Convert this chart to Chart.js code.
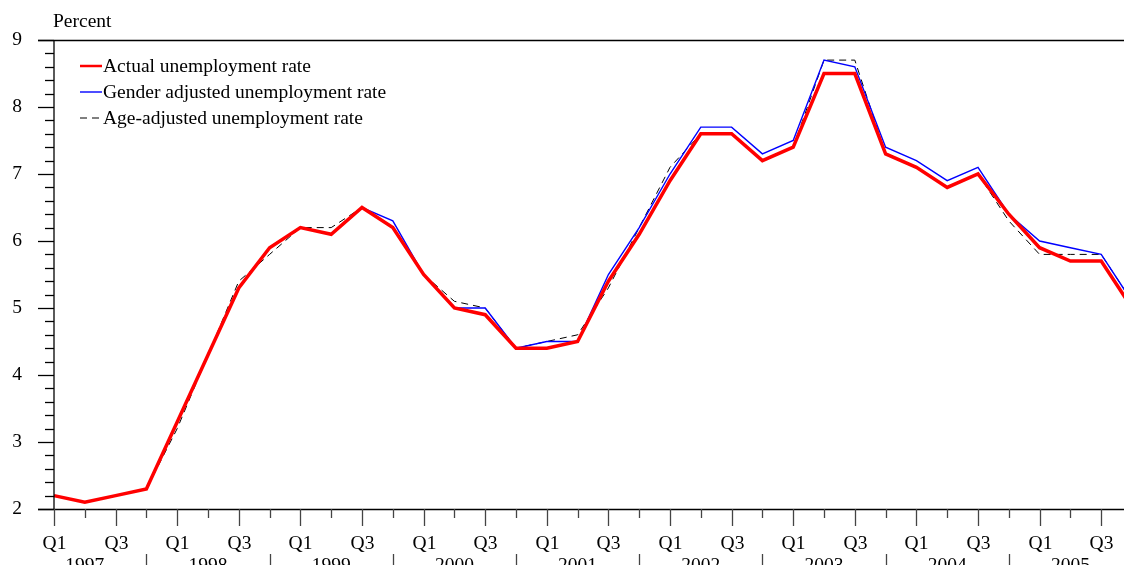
<!DOCTYPE html>
<html>
<head>
<meta charset="utf-8">
<script src="https://cdn.jsdelivr.net/npm/chart.js@4/dist/chart.umd.min.js"></script>
<style>
  html, body { margin: 0; padding: 0; background: #fff; }
  #wrap { width: 1124px; height: 565px; }
</style>
</head>
<body>
<div id="wrap"><canvas id="rateChart" width="1124" height="565"></canvas></div>
<script>
// quarterly series, 1997 Q1 .. 2005 Q4
const years = [1997, 1998, 1999, 2000, 2001, 2002, 2003, 2004, 2005];
const quarterNames = ['Q1', 'Q2', 'Q3', 'Q4'];
const yTicks = [2, 3, 4, 5, 6, 7, 8, 9];

const actualRate = [
  2.2, 2.1, 2.2, 2.3, 3.3, 4.3, 5.3, 5.9, 6.2, 6.1, 6.5, 6.2,
  5.5, 5.0, 4.9, 4.4, 4.4, 4.5, 5.4, 6.1, 6.9, 7.6, 7.6, 7.2,
  7.4, 8.5, 8.5, 7.3, 7.1, 6.8, 7.0, 6.4, 5.9, 5.7, 5.7, 5.0
];
const genderAdjusted = [
  2.2, 2.1, 2.2, 2.3, 3.3, 4.3, 5.3, 5.9, 6.2, 6.1, 6.5, 6.3,
  5.5, 5.0, 5.0, 4.4, 4.5, 4.5, 5.5, 6.2, 7.0, 7.7, 7.7, 7.3,
  7.5, 8.7, 8.6, 7.4, 7.2, 6.9, 7.1, 6.4, 6.0, 5.9, 5.8, 5.1
];
const ageAdjusted = [
  2.2, 2.1, 2.2, 2.3, 3.2, 4.3, 5.4, 5.8, 6.2, 6.2, 6.5, 6.2,
  5.5, 5.1, 5.0, 4.4, 4.5, 4.6, 5.3, 6.2, 7.1, 7.6, 7.6, 7.2,
  7.4, 8.7, 8.7, 7.3, 7.1, 6.8, 7.0, 6.3, 5.8, 5.8, 5.8, 5.1
];

const FONT = '19.5px "Liberation Serif", "Times New Roman", serif';

const toPoints = arr => arr.map((v, i) => ({ x: i, y: v }));

// axes, ticks, period labels and the legend are drawn by hand
const frame = {
  id: 'frame',
  afterDraw(chart) {
    const ctx = chart.ctx;
    const area = chart.chartArea;
    const xs = chart.scales.x;
    const ys = chart.scales.y;
    ctx.save();
    ctx.strokeStyle = '#000';
    ctx.fillStyle = '#000';
    ctx.lineWidth = 1.3;
    ctx.font = FONT;

    // y axis
    ctx.beginPath();
    ctx.moveTo(area.left, ys.getPixelForValue(9));
    ctx.lineTo(area.left, ys.getPixelForValue(2));
    ctx.stroke();
    for (let k = 0; k <= 35; k++) {
      const v = 2 + k * 0.2;
      const y = Math.round(ys.getPixelForValue(v)) + 0.5;
      const major = k % 5 === 0;
      ctx.beginPath();
      ctx.moveTo(area.left - (major ? 16 : 9), y);
      ctx.lineTo(area.left, y);
      ctx.stroke();
    }
    // top and bottom rules
    [9, 2].forEach(v => {
      const y = Math.round(ys.getPixelForValue(v)) + 0.5;
      ctx.beginPath();
      ctx.moveTo(area.left - 16, y);
      ctx.lineTo(chart.width, y);
      ctx.stroke();
    });
    ctx.textAlign = 'right';
    ctx.textBaseline = 'middle';
    yTicks.forEach(v => ctx.fillText(String(v), 22, ys.getPixelForValue(v)));

    ctx.textAlign = 'left';
    ctx.fillText('Percent', 53, 22);

    // quarter ticks and labels
    const base = ys.getPixelForValue(2);
    ctx.strokeStyle = '#444';
    ctx.textAlign = 'center';
    for (let i = 0; i < years.length * 4; i++) {
      const x = Math.round(xs.getPixelForValue(i)) + 0.5;
      if (x > chart.width) break;
      const q = i % 4;
      ctx.beginPath();
      ctx.moveTo(x, base);
      ctx.lineTo(x, base + (q % 2 === 0 ? 17 : 9));
      ctx.stroke();
      if (q === 0 || q === 2) ctx.fillText(quarterNames[q], x, 544);
      if (q === 3) {
        ctx.beginPath();
        ctx.moveTo(x, 554);
        ctx.lineTo(x, 565);
        ctx.stroke();
      }
    }
    years.forEach((yr, k) => {
      ctx.fillText(String(yr), xs.getPixelForValue(k * 4 + 1), 566);
    });

    // legend
    ctx.textAlign = 'left';
    chart.data.datasets.forEach((ds, k) => {
      const y = 66 + k * 26;
      ctx.strokeStyle = ds.borderColor;
      ctx.lineWidth = Math.min(ds.borderWidth, 2.5);
      ctx.setLineDash(ds.borderDash || []);
      ctx.beginPath();
      ctx.moveTo(80, y);
      ctx.lineTo(102, y);
      ctx.stroke();
      ctx.setLineDash([]);
      ctx.fillStyle = '#000';
      ctx.fillText(ds.label, 103, y + 1);
    });
    ctx.restore();
  }
};

new Chart(document.getElementById('rateChart'), {
  type: 'line',
  data: {
    datasets: [
      {
        label: 'Actual unemployment rate',
        data: toPoints(actualRate),
        borderColor: '#ff0000',
        borderWidth: 3.5,
        pointRadius: 0,
        tension: 0,
        clip: { left: 5, top: 5, right: 0, bottom: 5 },
      },
      {
        label: 'Gender adjusted unemployment rate',
        data: toPoints(genderAdjusted),
        borderColor: '#0000ff',
        borderWidth: 1.4,
        pointRadius: 0,
        tension: 0,
        clip: { left: 5, top: 5, right: 0, bottom: 5 },
      },
      {
        label: 'Age-adjusted unemployment rate',
        data: toPoints(ageAdjusted),
        borderColor: '#000000',
        borderWidth: 1,
        borderDash: [7, 5],
        pointRadius: 0,
        tension: 0,
        clip: { left: 5, top: 5, right: 0, bottom: 5 },
      },
    ],
  },
  options: {
    responsive: false,
    devicePixelRatio: 1,
    animation: false,
    layout: { padding: { left: 54, top: 40, right: 0, bottom: 56 } },
    scales: {
      x: { type: 'linear', min: 0, max: 34.74, display: false },
      y: { min: 2, max: 9, display: false },
    },
    plugins: {
      legend: { display: false },
      tooltip: { enabled: false },
    },
  },
  plugins: [frame],
});
</script>
</body>
</html>
